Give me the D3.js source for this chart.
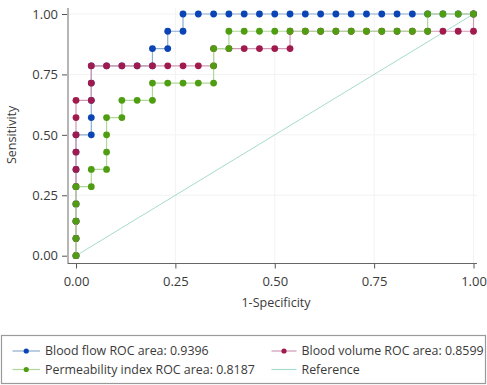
<!DOCTYPE html>
<html>
<head>
<meta charset="utf-8">
<script src="https://cdn.jsdelivr.net/npm/d3@7"></script>
<style>
  body { margin: 0; background: #fff; }
  text { font-family: "Open Sans", "Noto Sans", sans-serif; fill: #3a3a3a; }
</style>
</head>
<body>
<script>
// Counts: false positives (of 26) and true positives (of 14).
const nNeg = 26
const nPos = 14

const flowFp = [0, 0, 0, 0, 0, 0, 0, 0, 1, 1, 1, 1, 1, 2, 3, 4, 5, 5, 6, 6, 7, 7, 8, 9, 10, 11, 12, 13, 14, 15, 16, 17, 18, 19, 20, 21, 22, 23, 24, 25, 26]
const flowTp = [0, 1, 2, 3, 4, 5, 6, 7, 7, 8, 9, 10, 11, 11, 11, 11, 11, 12, 12, 13, 13, 14, 14, 14, 14, 14, 14, 14, 14, 14, 14, 14, 14, 14, 14, 14, 14, 14, 14, 14, 14]

const volumeFp = [0, 0, 0, 0, 0, 0, 0, 0, 0, 0, 1, 1, 1, 2, 3, 4, 5, 6, 7, 8, 9, 9, 10, 11, 12, 13, 14, 14, 15, 16, 17, 18, 19, 20, 21, 22, 23, 24, 25, 26, 26]
const volumeTp = [0, 1, 2, 3, 4, 5, 6, 7, 8, 9, 9, 10, 11, 11, 11, 11, 11, 11, 11, 11, 11, 12, 12, 12, 12, 12, 12, 13, 13, 13, 13, 13, 13, 13, 13, 13, 13, 13, 13, 13, 14]

const permFp = [0, 0, 0, 0, 0, 1, 1, 2, 2, 2, 2, 3, 3, 4, 5, 5, 6, 7, 8, 9, 9, 9, 10, 10, 11, 12, 13, 14, 15, 16, 17, 18, 19, 20, 21, 22, 23, 23, 24, 25, 26]
const permTp = [0, 1, 2, 3, 4, 4, 5, 5, 6, 7, 8, 8, 9, 9, 9, 10, 10, 10, 10, 10, 11, 12, 12, 13, 13, 13, 13, 13, 13, 13, 13, 13, 13, 13, 13, 13, 13, 14, 14, 14, 14]

const tickValues = [0, 0.25, 0.5, 0.75, 1]
const legendLabels = ['Blood flow ROC area: 0.9396', 'Blood volume ROC area: 0.8599',
  'Permeability index ROC area: 0.8187', 'Reference']

// Series in drawing order (blue under red under green).
const series = [
  { fp: flowFp, tp: flowTp, dot: '#0b45b5', line: '#8eaccd' },
  { fp: volumeFp, tp: volumeTp, dot: '#a11a4d', line: '#cf9ab4' },
  { fp: permFp, tp: permTp, dot: '#4f9d10', line: '#b0d89a' }
]
const refColor = '#a6dccd'

const W = 487, H = 385
const svg = d3.select('body').append('svg')
  .attr('width', W).attr('height', H)

const x = d3.scaleLinear().domain([0, 1]).range([76, 473.5])
const y = d3.scaleLinear().domain([0, 1]).range([255.7, 14])

// Faint grid.
svg.append('g').selectAll('line.gx')
  .data(tickValues.slice(1))
  .enter().append('line')
    .attr('x1', d => x(d)).attr('x2', d => x(d))
    .attr('y1', 8).attr('y2', 263)
    .attr('stroke', '#f3f3f3')
svg.append('g').selectAll('line.gy')
  .data(tickValues.slice(1))
  .enter().append('line')
    .attr('x1', 68).attr('x2', 477)
    .attr('y1', d => y(d)).attr('y2', d => y(d))
    .attr('stroke', '#f3f3f3')

// Axes.
const yAxis = svg.append('g')
  .attr('transform', 'translate(68,0)')
  .call(d3.axisLeft(y).tickValues(tickValues).tickFormat(d3.format('.2f')).tickSize(6).tickPadding(4).tickSizeOuter(0))
yAxis.select('.domain').remove()
yAxis.append('line')
  .attr('x1', 0).attr('x2', 0).attr('y1', 8).attr('y2', 264)
  .attr('stroke', '#b5b5b5').attr('stroke-width', 2)
yAxis.selectAll('.tick line').attr('stroke', '#555')
yAxis.selectAll('.tick text').style('font-size', '13px').attr('fill', '#3a3a3a')

const xAxis = svg.append('g')
  .attr('transform', 'translate(0,263.5)')
  .call(d3.axisBottom(x).tickValues(tickValues).tickFormat(d3.format('.2f')).tickSize(5).tickPadding(8).tickSizeOuter(0))
xAxis.select('.domain').remove()
xAxis.append('line')
  .attr('x1', 68).attr('x2', 477).attr('y1', 0).attr('y2', 0)
  .attr('stroke', '#666')
xAxis.selectAll('.tick line').attr('stroke', '#555')
xAxis.selectAll('.tick text').style('font-size', '13px').attr('fill', '#3a3a3a')

// Axis titles.
svg.append('text')
  .attr('x', 276).attr('y', 307)
  .attr('text-anchor', 'middle')
  .style('font-size', '12.5px')
  .text('1-Specificity')
svg.append('text')
  .attr('transform', `translate(16,${(y(0) + y(1)) / 2}) rotate(-90)`)
  .attr('text-anchor', 'middle')
  .style('font-size', '12.5px')
  .text('Sensitivity')

// Reference diagonal.
svg.append('line')
  .attr('x1', x(0)).attr('y1', y(0))
  .attr('x2', x(1)).attr('y2', y(1))
  .attr('stroke', refColor).attr('stroke-width', 1)

// ROC curves.
const line = d3.line()
  .x(d => x(d[0] / nNeg))
  .y(d => y(d[1] / nPos))

series.forEach(s => {
  const pts = s.fp.map((v, i) => [v, s.tp[i]])
  const g = svg.append('g')
  g.append('path')
    .datum(pts)
    .attr('d', line)
    .attr('fill', 'none')
    .attr('stroke', s.line)
    .attr('stroke-width', 1.2)
  g.selectAll('circle')
    .data(pts)
    .enter().append('circle')
      .attr('cx', d => x(d[0] / nNeg))
      .attr('cy', d => y(d[1] / nPos))
      .attr('r', 3.4)
      .attr('fill', s.dot)
})

// Legend.
const legend = svg.append('g')
legend.append('rect')
  .attr('x', 1.5).attr('y', 335.5)
  .attr('width', 484).attr('height', 48)
  .attr('fill', '#fff').attr('stroke', '#9a9a9a').attr('stroke-width', 1.2)

const legendItems = [
  { label: legendLabels[0], dot: series[0].dot, line: series[0].line, lx: 12.5, ly: 351, tx: 32.5 },
  { label: legendLabels[1], dot: series[1].dot, line: series[1].line, lx: 271.5, ly: 351, tx: 30 },
  { label: legendLabels[2], dot: series[2].dot, line: series[2].line, lx: 12.5, ly: 369.5, tx: 32.5 },
  { label: legendLabels[3], dot: null, line: refColor, lx: 271.5, ly: 369.5, tx: 30 }
]
const li = legend.selectAll('g.item')
  .data(legendItems)
  .enter().append('g')
    .attr('class', 'item')
    .attr('transform', d => `translate(${d.lx},${d.ly})`)
li.append('line')
  .attr('x1', 0).attr('x2', d => d.tx - 5)
  .attr('stroke', d => d.line).attr('stroke-width', 1.2)
li.filter(d => d.dot).append('circle')
  .attr('cx', d => (d.tx - 5) / 2).attr('r', 2.6)
  .attr('fill', d => d.dot)
li.append('text')
  .attr('x', d => d.tx).attr('dy', '0.35em')
  .style('font-size', '12.4px')
  .text(d => d.label)
</script>
</body>
</html>
